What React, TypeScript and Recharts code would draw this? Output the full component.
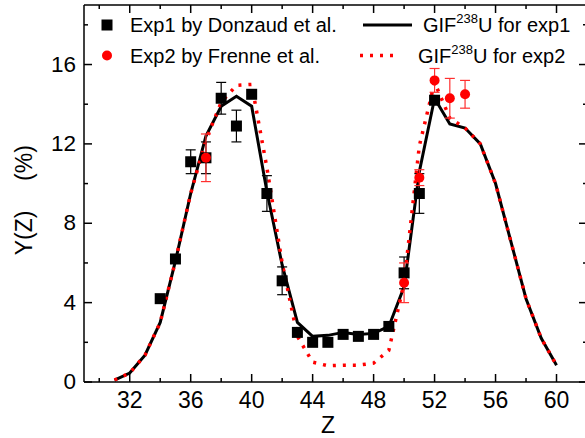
import React from "react";
import {
  ComposedChart,
  Line,
  Scatter,
  ErrorBar,
  XAxis,
  YAxis,
} from "recharts";

// ─── data ────────────────────────────────────────────────────────
const FIT_Z = [31, 32, 33, 34, 35, 36, 37, 38, 39, 40, 41, 42, 43, 44, 45, 46, 47, 48, 49, 50, 51, 52, 53, 54, 55, 56, 57, 58, 59, 60];
const FIT_EXP1 = [0.1, 0.45, 1.35, 3.0, 6.1, 9.5, 12.4, 13.9, 14.4, 13.9, 9.6, 5.9, 3.0, 2.3, 2.35, 2.5, 2.4, 2.45, 2.8, 4.8, 10.6, 14.3, 13.0, 12.8, 12.0, 10.0, 7.1, 4.2, 2.2, 0.85];
const FIT_EXP2 = [0.1, 0.45, 1.35, 3.0, 6.1, 9.5, 12.2, 14.1, 14.95, 15.0, 10.8, 6.0, 2.3, 1.0, 0.82, 0.85, 0.85, 0.95, 1.6, 5.0, 11.9, 15.1, 13.3, 12.8, 12.0, 10.0, 7.1, 4.2, 2.2, 0.85];

const EXP1_Z = [34, 35, 36, 37, 38, 39, 40, 41, 42, 43, 44, 45, 46, 47, 48, 49, 50, 51, 52];
const EXP1_Y = [4.2, 6.2, 11.1, 11.3, 14.3, 12.9, 14.5, 9.5, 5.1, 2.5, 2.0, 2.0, 2.4, 2.3, 2.4, 2.8, 5.5, 9.5, 14.2];
const EXP1_ERR = [0, 0, 0.6, 0.8, 0.8, 0.8, 0, 0.9, 0.7, 0, 0, 0, 0, 0, 0, 0, 0.8, 1.0, 0];

const EXP2_Z = [37, 50, 51, 52, 53, 54];
const EXP2_Y = [11.3, 5.0, 10.3, 15.2, 14.3, 14.5];
const EXP2_ERR = [1.2, 1.0, 0.4, 0.6, 1.0, 0.7];

const X_TICKS = [30, 32, 34, 36, 38, 40, 42, 44, 46, 48, 50, 52, 54, 56, 58, 60, 62];
const Y_TICKS = [0, 2, 4, 6, 8, 10, 12, 14, 16, 18];

const fit1 = FIT_Z.map((z, i) => ({ z, y: FIT_EXP1[i] }));
const fit2 = FIT_Z.map((z, i) => ({ z, y: FIT_EXP2[i] }));
const exp1 = EXP1_Z.map((z, i) => ({ z, y: EXP1_Y[i], err: EXP1_ERR[i] }));
const exp2 = EXP2_Z.map((z, i) => ({ z, y: EXP2_Y[i], err: EXP2_ERR[i] }));

const FONT = '"Liberation Sans", Arial, sans-serif';
const AXIS = { stroke: "#000", strokeWidth: 1.5 };

// ─── ticks pointing inside the frame ─────────────────────────────
function BottomTick({ x, y, payload }: any) {
  const v = payload.value;
  const major = v % 4 === 0;
  return (
    <g>
      <line x1={x} y1={y} x2={x} y2={y - (major ? 8 : 4)} stroke="#000" strokeWidth={1.5} />
      {major && v >= 32 && v <= 60 && (
        <text x={x} y={y + 26} textAnchor="middle" fontSize={23} fill="#000">
          {v}
        </text>
      )}
    </g>
  );
}

function TopTick({ x, y, payload }: any) {
  const major = payload.value % 4 === 0;
  return <line x1={x} y1={y} x2={x} y2={y + (major ? 8 : 4)} stroke="#000" strokeWidth={1.5} />;
}

function LeftTick({ x, y, payload }: any) {
  const v = payload.value;
  const major = v % 4 === 0;
  return (
    <g>
      <line x1={x} y1={y} x2={x + (major ? 8 : 4)} y2={y} stroke="#000" strokeWidth={1.5} />
      {major && v <= 16 && (
        <text x={x - 8} y={y + 7} textAnchor="end" fontSize={22.5} fill="#000">
          {v}
        </text>
      )}
    </g>
  );
}

function RightTick({ x, y, payload }: any) {
  const major = payload.value % 4 === 0;
  return <line x1={x} y1={y} x2={x - (major ? 8 : 4)} y2={y} stroke="#000" strokeWidth={1.5} />;
}

const Square = (p: any) => <rect x={p.cx - 5.5} y={p.cy - 5.5} width={11} height={11} fill="#000" />;
const Dot = (p: any) => <circle cx={p.cx} cy={p.cy} r={5} fill="#ff0000" />;

function YLabel() {
  return (
    <g fontSize={23} fill="#000">
      <text x={24} y={233} transform="rotate(-90 24 233)" textAnchor="middle" dominantBaseline="central">
        Y(Z)
      </text>
      <text x={24} y={163} transform="rotate(-90 24 163)" textAnchor="middle" dominantBaseline="central">
        (%)
      </text>
    </g>
  );
}

function LegendOverlay() {
  return (
    <svg
      width={585}
      height={80}
      style={{ position: "absolute", left: 0, top: 0, fontFamily: FONT, pointerEvents: "none" }}
    >
      <rect x={101.5} y={19.5} width={11} height={11} fill="#000" />
      <text x={130} y={32} fontSize={20}>Exp1 by Donzaud et al.</text>
      <line x1={363} y1={25} x2={412} y2={25} stroke="#000" strokeWidth={3} />
      <text x={423} y={32} fontSize={20}>
        GIF<tspan fontSize={13} dy={-9}>238</tspan>
        <tspan dy={9}>U for exp1</tspan>
      </text>

      <circle cx={107} cy={55.5} r={5} fill="#ff0000" />
      <text x={130} y={63} fontSize={20}>Exp2 by Frenne et al.</text>
      <line x1={360} y1={55.5} x2={395} y2={55.5} stroke="#ff0000" strokeWidth={3.5} strokeDasharray="3 7" />
      <text x={418} y={63} fontSize={20}>
        GIF<tspan fontSize={13} dy={-9}>238</tspan>
        <tspan dy={9}>U for exp2</tspan>
      </text>
    </svg>
  );
}

export default function App() {
  return (
    <div
      style={{
        position: "absolute",
        left: 0,
        top: 0,
        width: 585,
        height: 438,
        overflow: "hidden",
        background: "#fff",
        fontFamily: FONT,
      }}
    >
      <ComposedChart width={600} height={438} margin={{ top: 0, right: 0, bottom: 0, left: 0 }}>
        <XAxis
          xAxisId="b"
          dataKey="z"
          type="number"
          domain={[29, 62]}
          ticks={X_TICKS}
          interval={0}
          allowDataOverflow
          height={56}
          axisLine={AXIS}
          tickLine={false}
          tickSize={0}
          tickMargin={0}
          tick={<BottomTick />}
          label={() => (
            <text x={328} y={433} textAnchor="middle" fontSize={23} fill="#000">
              Z
            </text>
          )}
        />
        <XAxis
          xAxisId="t"
          orientation="top"
          dataKey="z"
          type="number"
          domain={[29, 62]}
          ticks={X_TICKS}
          interval={0}
          allowDataOverflow
          height={5}
          axisLine={AXIS}
          tickLine={false}
          tickSize={0}
          tickMargin={0}
          tick={<TopTick />}
        />
        <YAxis
          yAxisId="l"
          dataKey="y"
          type="number"
          domain={[0, 19]}
          ticks={Y_TICKS}
          interval={0}
          allowDataOverflow
          width={84}
          axisLine={AXIS}
          tickLine={false}
          tickSize={0}
          tickMargin={0}
          tick={<LeftTick />}
          label={() => <YLabel />}
        />
        <YAxis
          yAxisId="r"
          orientation="right"
          dataKey="y"
          type="number"
          domain={[0, 19]}
          ticks={Y_TICKS}
          interval={0}
          allowDataOverflow
          width={13}
          axisLine={AXIS}
          tickLine={false}
          tickSize={0}
          tickMargin={0}
          tick={<RightTick />}
        />

        <Line xAxisId="b" yAxisId="l" data={fit1} dataKey="y" type="linear" stroke="#000" strokeWidth={3} dot={false} isAnimationActive={false} />
        <Line xAxisId="b" yAxisId="l" data={fit2} dataKey="y" type="linear" stroke="#ff0000" strokeWidth={3.5} strokeDasharray="3 7" dot={false} isAnimationActive={false} />
        <Scatter xAxisId="b" yAxisId="l" data={exp1} dataKey="y" shape={Square} isAnimationActive={false}>
          <ErrorBar dataKey="err" direction="y" width={5} stroke="#000" strokeWidth={1.2} />
        </Scatter>
        <Scatter xAxisId="b" yAxisId="l" data={exp2} dataKey="y" shape={Dot} isAnimationActive={false}>
          <ErrorBar dataKey="err" direction="y" width={5} stroke="#ff3030" strokeWidth={1.2} />
        </Scatter>
      </ComposedChart>
      <LegendOverlay />
    </div>
  );
}
